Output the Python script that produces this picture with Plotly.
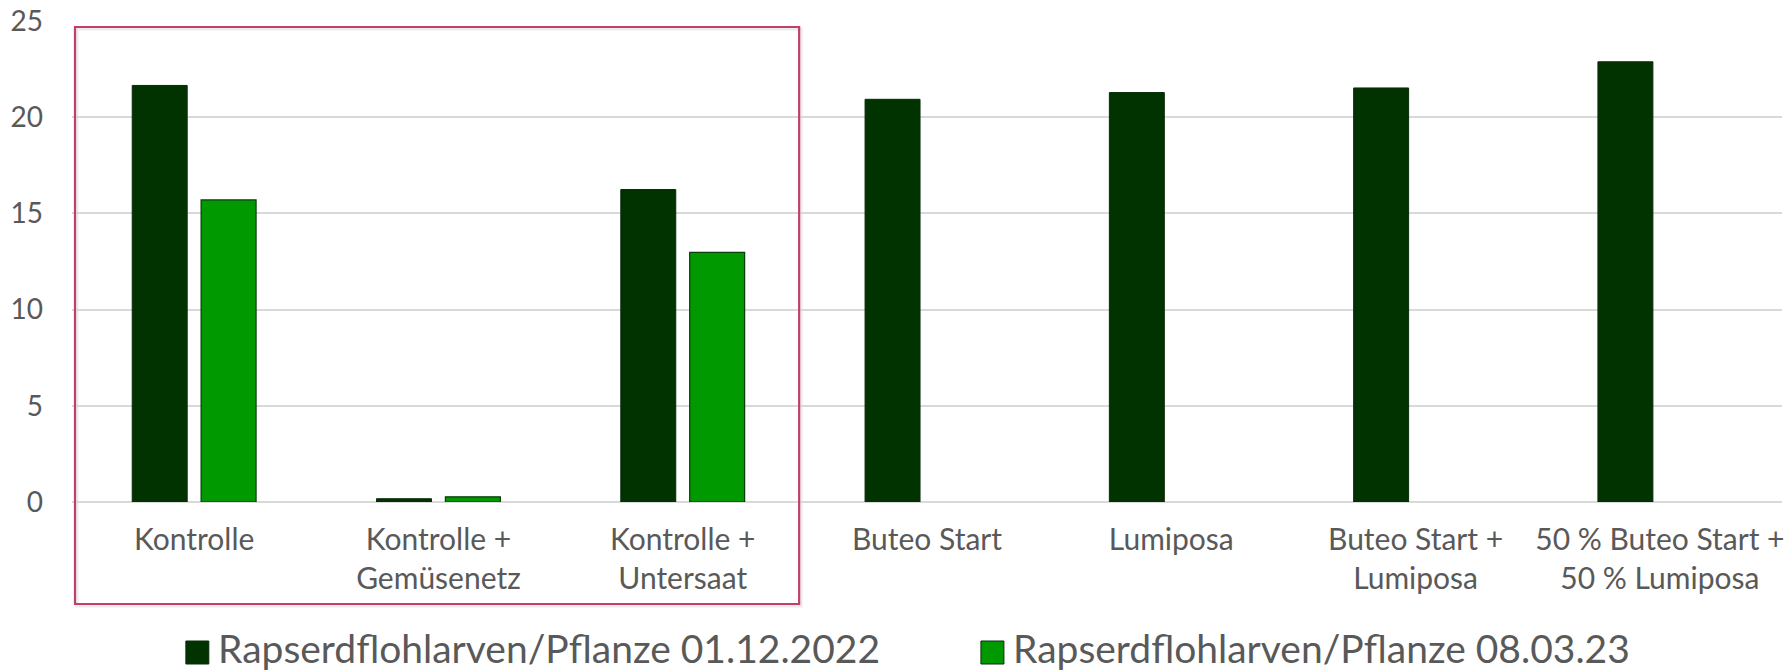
import plotly.graph_objects as go

categories = ["Kontrolle", "Kontrolle +<br>Gemüsenetz", "Kontrolle +<br>Untersaat", "Buteo Start",
              "Lumiposa", "Buteo Start +<br>Lumiposa", "50 % Buteo Start +<br>50 % Lumiposa"]
series1_name = "Rapserdflohlarven/Pflanze 01.12.2022"
series1 = [21.65, 0.17, 16.24, 20.93, 21.28, 21.52, 22.88]
series2_name = "Rapserdflohlarven/Pflanze 08.03.23"
series2 = [15.7, 0.27, 12.97, None, None, None, None]
y_ticks = [0, 5, 10, 15, 20, 25]

W, H = 1786, 671
L, R, T, B = 72, 2, 21, 169
pw, ph = W - L - R, H - T - B

def px(x):
    return (x - L) / pw

def py(y):
    return (H - B - y) / ph

bw = 0.225   # bar width in category units
gap = 0.057
x_idx = list(range(len(categories)))

DARK = "#003300"
GREEN = "#009900"
FONT = "Lato, Carlito, Calibri, sans-serif"
TXT = "#595959"

fig = go.Figure()
fig.add_trace(go.Bar(x=x_idx, y=series1, name=series1_name, width=bw, offset=-(bw + gap / 2),
                     marker=dict(color=DARK, line=dict(color="#0a2a0a", width=1))))
fig.add_trace(go.Bar(x=x_idx, y=series2, name=series2_name, width=bw, offset=gap / 2,
                     marker=dict(color=GREEN, line=dict(color="#0b3a0b", width=1.2))))

fig.update_layout(
    width=W, height=H,
    margin=dict(l=L, r=R, t=T, b=B),
    paper_bgcolor="white", plot_bgcolor="white",
    barmode="overlay", showlegend=False,
    font=dict(family=FONT, color=TXT),
)
fig.update_xaxes(type="linear", range=[-0.5, len(categories) - 0.5],
                 tickvals=x_idx, ticktext=categories, showgrid=False, zeroline=False,
                 tickfont=dict(size=30, color=TXT), ticklabelstandoff=17, showline=False,
                 ticklabeloverflow="allow")
fig.update_yaxes(range=[0, 25], tickvals=y_ticks, showgrid=True, gridcolor="#D9D9D9", gridwidth=1.5,
                 zeroline=True, zerolinecolor="#D9D9D9", zerolinewidth=1.5,
                 tickfont=dict(size=28, color=TXT), ticklabelstandoff=28, showline=False)

# highlight box
fig.add_shape(type="rect", xref="paper", yref="paper",
              x0=px(77), x1=px(802), y0=py(606), y1=py(29),
              line=dict(color="rgba(0,0,0,0.08)", width=3), layer="below")
fig.add_shape(type="rect", xref="paper", yref="paper",
              x0=px(75), x1=px(800), y0=py(604), y1=py(27),
              line=dict(color="#C0406A", width=2.2), layer="above")

# legend
legend_items = [(series1_name, DARK, 186, 220), (series2_name, GREEN, 982, 1016)]
for name, col, sx, tx in legend_items:
    fig.add_shape(type="rect", xref="paper", yref="paper",
                  x0=px(sx), x1=px(sx + 23), y0=py(664), y1=py(641),
                  fillcolor=col, line=dict(color="#0a2a0a", width=1))
    fig.add_annotation(xref="paper", yref="paper", x=px(tx - 4), y=py(648), text=name,
                       showarrow=False, xanchor="left", yanchor="middle",
                       font=dict(size=39, color=TXT, family=FONT))

fig.write_html("out.html", config={"displayModeBar": False},
               post_script="document.body.style.margin='0';document.body.style.overflow='hidden';")
